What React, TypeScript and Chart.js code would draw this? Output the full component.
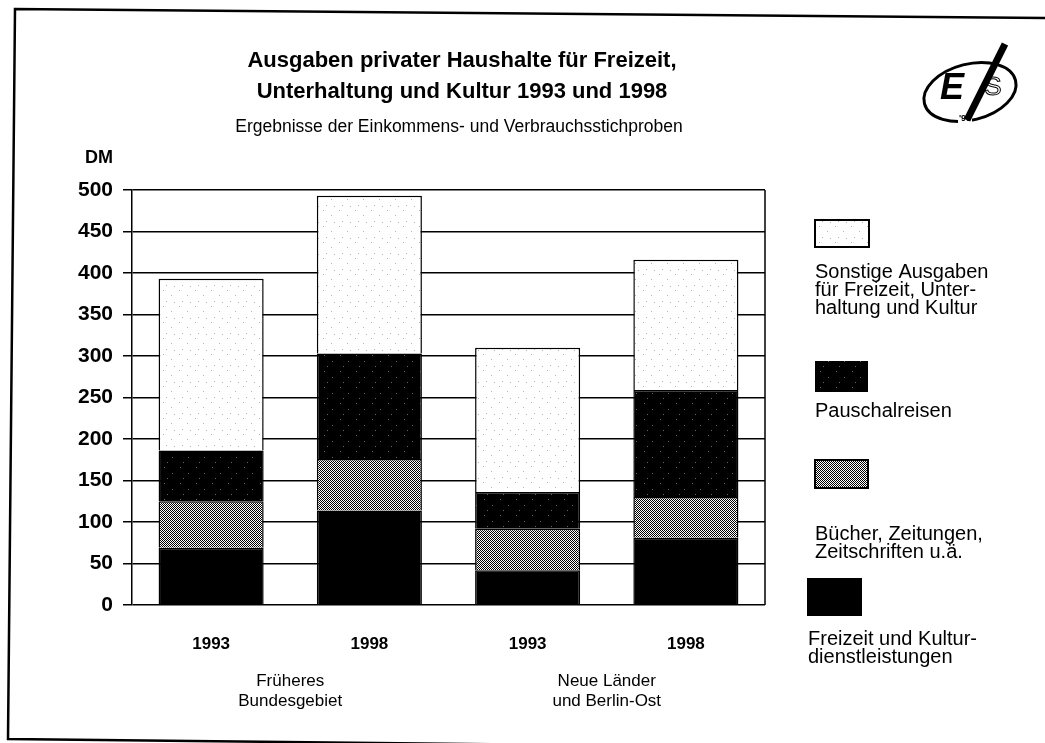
import React, { useEffect, useRef } from "react";
import { Chart, registerables } from "chart.js";

Chart.register(...registerables);

// ---------- data ----------
const categories = ["1993", "1998", "1993", "1998"];
const groupLabels = [
  ["Früheres", "Bundesgebiet"],
  ["Neue Länder", "und Berlin-Ost"],
];
const seriesNames = [
  "Freizeit und Kultur-dienstleistungen",
  "Bücher, Zeitungen, Zeitschriften u.ä.",
  "Pauschalreisen",
  "Sonstige Ausgaben für Freizeit, Unterhaltung und Kultur",
];
const freizeitDienst = [69, 114, 42, 81];
const buecher = [56, 62, 50, 49];
const pauschal = [61, 127, 44, 129];
const sonstige = [207, 190, 174, 157];
const yMin = 0;
const yMax = 500;
const yStep = 50;

const titleLines = [
  "Ausgaben privater Haushalte für Freizeit,",
  "Unterhaltung und Kultur 1993 und 1998",
];
const subtitle = "Ergebnisse der Einkommens- und Verbrauchsstichproben";
const yUnit = "DM";
const legendLines = [
  ["Sonstige Ausgaben", "für Freizeit, Unter-", "haltung und Kultur"],
  ["Pauschalreisen"],
  ["Bücher, Zeitungen,", "Zeitschriften u.ä."],
  ["Freizeit und Kultur-", "dienstleistungen"],
];

const FONT = "'Liberation Sans', Arial, Helvetica, sans-serif";

function makeChecker(): CanvasPattern | string {
  const c = document.createElement("canvas");
  c.width = 2;
  c.height = 2;
  const g = c.getContext("2d");
  if (!g) return "#808080";
  g.fillStyle = "#fff";
  g.fillRect(0, 0, 2, 2);
  g.fillStyle = "#000";
  g.fillRect(0, 0, 1, 1);
  g.fillRect(1, 1, 1, 1);
  const p = g.createPattern(c, "repeat");
  return p || "#808080";
}

function makeSpeckle(base: string, dot: string, spots: number[][]): CanvasPattern | string {
  const c = document.createElement("canvas");
  c.width = 16;
  c.height = 16;
  const g = c.getContext("2d");
  if (!g) return base;
  g.fillStyle = base;
  g.fillRect(0, 0, 16, 16);
  g.fillStyle = dot;
  spots.forEach(([x, y]) => g.fillRect(x, y, 1, 1));
  const p = g.createPattern(c, "repeat");
  return p || base;
}

export default function App() {
  const ref = useRef<HTMLCanvasElement | null>(null);

  useEffect(() => {
    document.body.style.margin = "0";
    const canvas = ref.current;
    if (!canvas) return;

    const checker = makeChecker();
    const whiteSpeck = makeSpeckle("#ffffff", "#b0b0b0", [[3, 2], [11, 7], [6, 13], [14, 14]]);
    const blackSpeck = makeSpeckle("#000000", "#6a6a6a", [[4, 3], [12, 9], [7, 14]]);
    const fills = ["#000000", checker, blackSpeck, whiteSpeck];

    const decorations = {
      id: "decorations",
      afterDraw(chart: any) {
        const ctx = chart.ctx as CanvasRenderingContext2D;
        const area = chart.chartArea;
        const xs = chart.scales.x;
        ctx.save();

        // outer frame (slightly skewed scan)
        ctx.strokeStyle = "#000";
        ctx.lineWidth = 2.5;
        ctx.beginPath();
        ctx.moveTo(1045, 18);
        ctx.lineTo(15, 9);
        ctx.lineTo(8, 739);
        ctx.lineTo(560, 745);
        ctx.stroke();

        // plot right border
        ctx.lineWidth = 1.5;
        ctx.beginPath();
        ctx.moveTo(area.right, area.top);
        ctx.lineTo(area.right, area.bottom);
        ctx.stroke();

        // titles
        ctx.fillStyle = "#000";
        ctx.textAlign = "center";
        ctx.textBaseline = "alphabetic";
        ctx.font = `bold 22px ${FONT}`;
        ctx.fillText(titleLines[0], 462, 67);
        ctx.fillText(titleLines[1], 462, 98);
        ctx.font = `17.5px ${FONT}`;
        ctx.fillText(subtitle, 459, 132);

        // unit
        ctx.font = `bold 18px ${FONT}`;
        ctx.textAlign = "center";
        ctx.fillText(yUnit, 99, 163);

        // group labels
        ctx.font = `17px ${FONT}`;
        const g0 = xs.getPixelForValue(0.5);
        const g1 = xs.getPixelForValue(2.5);
        [g0, g1].forEach((gx, i) => {
          ctx.fillText(groupLabels[i][0], gx, 686);
          ctx.fillText(groupLabels[i][1], gx, 706);
        });

        // legend (top to bottom: reversed series order)
        const boxes = [
          { x: 815, y: 220, w: 54, h: 27, fill: fills[3], border: true, ty: [278, 296, 314] },
          { x: 815, y: 361, w: 53, h: 31, fill: fills[2], border: false, ty: [417] },
          { x: 815, y: 460, w: 53, h: 28, fill: fills[1], border: true, ty: [540, 558] },
          { x: 807, y: 578, w: 55, h: 38, fill: fills[0], border: false, ty: [645, 663] },
        ];
        ctx.textAlign = "left";
        ctx.font = `20px ${FONT}`;
        boxes.forEach((b, i) => {
          ctx.fillStyle = b.fill as any;
          ctx.fillRect(b.x, b.y, b.w, b.h);
          if (b.border) {
            ctx.strokeStyle = "#000";
            ctx.lineWidth = 2;
            ctx.strokeRect(b.x, b.y, b.w, b.h);
          }
          ctx.fillStyle = "#000";
          legendLines[i].forEach((t, j) => ctx.fillText(t, i === 3 ? 808 : 815, b.ty[j]));
        });

        // logo
        ctx.save();
        ctx.translate(970, 92);
        ctx.rotate(-0.25);
        ctx.beginPath();
        ctx.ellipse(0, 0, 47, 28, 0, 0, Math.PI * 2);
        ctx.lineWidth = 3;
        ctx.strokeStyle = "#000";
        ctx.stroke();
        ctx.restore();
        ctx.fillStyle = "#fff";
        ctx.fillRect(958, 112, 14, 12);
        ctx.fillStyle = "#000";
        ctx.font = `italic bold 36px ${FONT}`;
        ctx.textAlign = "center";
        ctx.fillText("E", 952, 99);
        ctx.font = `bold 9px ${FONT}`;
        ctx.fillText("'98", 965, 121);
        ctx.lineWidth = 1;
        ctx.font = `26px ${FONT}`;
        ctx.strokeText("S", 993, 95);
        ctx.beginPath();
        ctx.moveTo(1005, 44);
        ctx.lineTo(967, 120);
        ctx.lineWidth = 7;
        ctx.stroke();

        ctx.restore();
      },
    };

    const chart = new Chart(canvas, {
      type: "bar",
      data: {
        labels: categories,
        datasets: [
          { label: seriesNames[0], data: freizeitDienst, backgroundColor: fills[0] as any },
          { label: seriesNames[1], data: buecher, backgroundColor: fills[1] as any },
          { label: seriesNames[2], data: pauschal, backgroundColor: fills[2] as any },
          { label: seriesNames[3], data: sonstige, backgroundColor: fills[3] as any },
        ].map((d) => ({
          ...d,
          borderColor: "#000",
          borderWidth: 1.5,
          categoryPercentage: 1,
          barPercentage: 0.664,
        })),
      },
      options: {
        responsive: false,
        animation: false,
        events: [],
        layout: { padding: { left: 0, right: 280, top: 190, bottom: 88 } },
        plugins: {
          legend: { display: false },
          title: { display: false },
          tooltip: { enabled: false },
        },
        scales: {
          x: {
            stacked: true,
            grid: { display: false },
            border: { display: false },
            ticks: {
              color: "#000",
              padding: 21,
              font: { family: FONT, size: 17, weight: "bold" },
            },
            afterFit: (s: any) => {
              s.height = 50;
            },
          },
          y: {
            stacked: true,
            min: yMin,
            max: yMax,
            ticks: {
              stepSize: yStep,
              color: "#000",
              padding: 10,
              font: { family: FONT, size: 21, weight: "bold" },
            },
            grid: { color: "#000", lineWidth: 1.5, tickLength: 9, drawTicks: true },
            border: { color: "#000", width: 1.5 },
            afterFit: (s: any) => {
              s.width = 132;
            },
          },
        },
      },
      plugins: [decorations],
    });

    return () => chart.destroy();
  }, []);

  return (
    <canvas
      ref={ref}
      width={1045}
      height={743}
      style={{ display: "block", width: 1045, height: 743, background: "#fff" }}
    />
  );
}
